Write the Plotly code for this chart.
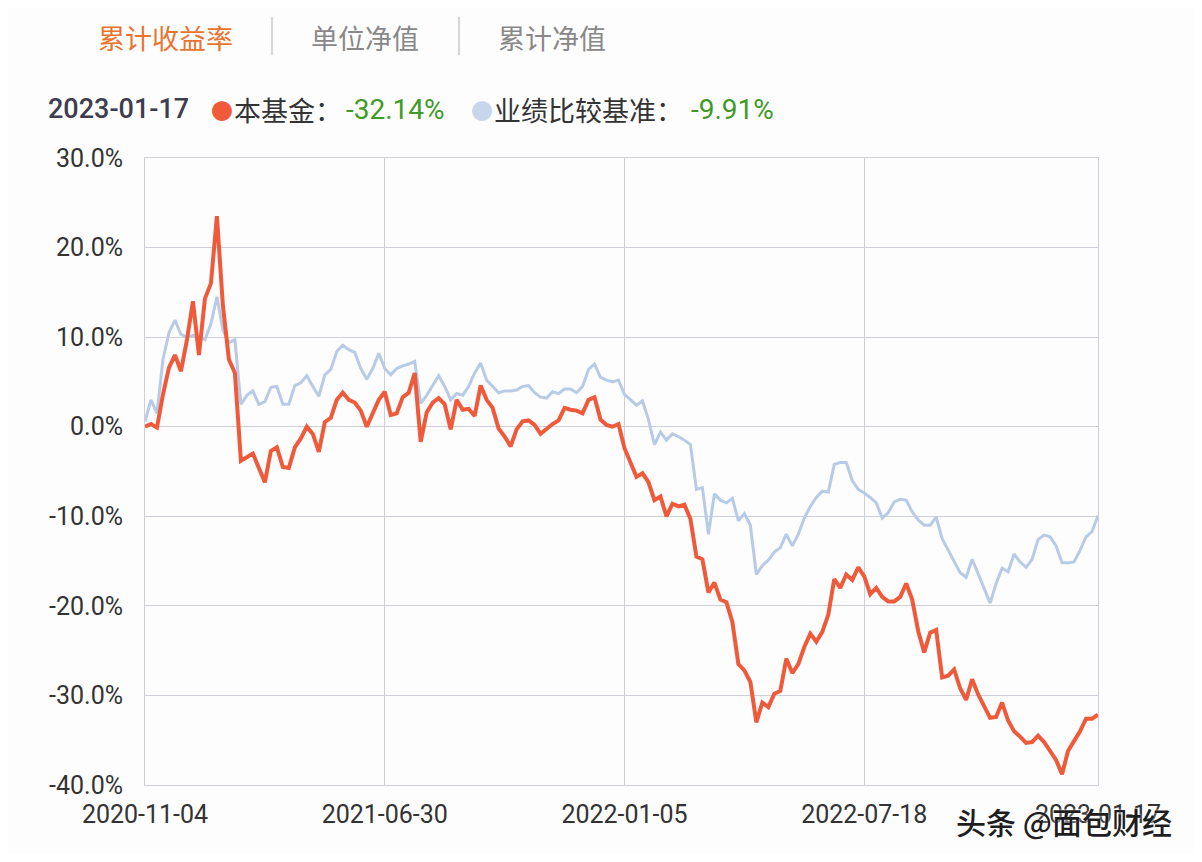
import plotly.graph_objects as go

# ---- data ----
fund_returns = [
    0.0, 0.3, -0.1, 3.6, 6.6, 8.0, 6.2, 9.7, 14.0, 8.0,
    14.3, 16.0, 23.5, 13.5, 7.5, 6.0, -3.8, -3.4, -3.0, -4.6,
    -6.2, -2.7, -2.3, -4.5, -4.6, -2.3, -1.3, 0.0, -0.8, -2.8,
    0.5, 1.0, 3.0, 3.8, 3.0, 2.7, 1.8, 0.0, 1.5, 3.0,
    3.9, 1.3, 1.5, 3.3, 3.8, 6.0, -1.7, 1.6, 2.7, 3.2,
    2.5, -0.3, 3.0, 1.9, 2.0, 1.2, 4.6, 3.0, 2.1, -0.2,
    -1.1, -2.2, -0.3, 0.6, 0.7, 0.2, -0.8, -0.2, 0.3, 0.7,
    2.1, 1.9, 1.8, 1.5, 3.0, 3.3, 0.8, 0.2, 0.0, 0.3,
    -2.4, -4.0, -5.6, -5.2, -6.2, -8.2, -7.8, -10.0, -8.6, -8.9,
    -8.7, -10.3, -14.5, -14.8, -18.5, -17.4, -19.3, -19.6, -21.8, -26.5,
    -27.2, -28.5, -33.0, -30.8, -31.3, -29.8, -29.5, -25.9, -27.5, -26.5,
    -24.6, -23.1, -24.0, -22.9, -21.0, -17.0, -18.0, -16.5, -17.1, -15.7,
    -16.7, -18.7, -18.0, -19.0, -19.5, -19.5, -19.0, -17.5, -19.3, -22.8,
    -25.2, -23.0, -22.7, -28.0, -27.8, -27.1, -29.2, -30.5, -28.2, -29.9,
    -31.2, -32.5, -32.4, -30.8, -32.8, -34.0, -34.6, -35.3, -35.2, -34.5,
    -35.2, -36.2, -37.2, -38.8, -36.2, -35.1, -34.0, -32.6, -32.6, -32.14,
]
benchmark_returns = [
    0.6, 3.0, 1.5, 7.5, 10.5, 11.9, 10.3, 10.0, 10.2, 10.0,
    9.7, 11.5, 14.5, 10.8, 9.4, 9.7, 2.5, 3.5, 4.0, 2.5,
    2.8, 4.4, 4.5, 2.5, 2.5, 4.6, 4.9, 5.7, 4.5, 3.4,
    5.8, 6.4, 8.4, 9.1, 8.6, 8.3, 6.5, 5.3, 6.5, 8.2,
    6.5, 5.8, 6.5, 6.8, 7.0, 7.3, 2.6, 3.5, 4.6, 5.7,
    4.5, 3.0, 3.7, 3.5, 4.5, 6.0, 7.1, 5.2, 4.5, 3.8,
    4.0, 4.0, 4.1, 4.5, 4.6, 3.8, 3.3, 3.2, 3.9, 3.7,
    4.2, 4.2, 3.8, 4.5, 6.4, 7.0, 5.5, 5.2, 5.0, 5.2,
    3.6, 3.0, 2.4, 2.9, 0.8, -2.0, -0.6, -1.5, -0.8, -1.1,
    -1.5, -2.0, -7.0, -6.8, -12.0, -7.5, -8.2, -8.5, -8.0, -10.5,
    -9.7, -11.0, -16.5, -15.5, -14.9, -14.0, -13.5, -12.0, -13.3, -12.0,
    -10.2, -8.9, -7.9, -7.2, -7.3, -4.2, -4.0, -4.0, -6.0, -7.0,
    -7.4, -7.9, -8.5, -10.2, -9.6, -8.4, -8.1, -8.2, -9.5, -10.4,
    -11.0, -11.0, -10.1, -12.5, -13.8, -15.0, -16.3, -16.8, -14.8, -16.4,
    -18.0, -19.7, -17.5, -15.8, -16.2, -14.2, -15.1, -15.7, -14.8, -12.6,
    -12.1, -12.3, -13.3, -15.2, -15.2, -15.1, -13.8, -12.3, -11.7, -9.91,
]
x_tick_index = [0, 40, 80, 120, 159]
x_tick_labels = ["2020-11-04", "2021-06-30", "2022-01-05", "2022-07-18", "2023-01-17"]
y_tick_values = [30, 20, 10, 0, -10, -20, -30, -40]
y_tick_labels = ["30.0%", "20.0%", "10.0%", "0.0%", "-10.0%", "-20.0%", "-30.0%", "-40.0%"]
tabs = ["累计收益率", "单位净值", "累计净值"]
latest_date = "2023-01-17"
fund_name = "本基金："
bench_name = "业绩比较基准："
fund_latest = "-32.14%"
bench_latest = "-9.91%"
watermark = "头条 @面包财经"

# ---- style ----
RED = "#ef5a3a"
BLUE = "#b8cbe6"
GRID = "#cdd0d8"
GREEN = "#3f9a26"
CJK = "Noto Sans CJK SC"
NUM = "Roboto, Noto Sans CJK SC"

idx = list(range(len(fund_returns)))

fig = go.Figure()
fig.add_trace(go.Scatter(x=idx, y=benchmark_returns, mode="lines",
                         line=dict(color=BLUE, width=3), hoverinfo="skip"))
fig.add_trace(go.Scatter(x=idx, y=fund_returns, mode="lines",
                         line=dict(color=RED, width=4), hoverinfo="skip"))

W, H = 1186, 846
fig.update_layout(
    width=W, height=H,
    margin=dict(l=137, r=96, t=150, b=69),
    paper_bgcolor="#fdfdfe", plot_bgcolor="#fdfdfe",
    showlegend=False,
    xaxis=dict(range=[0, len(fund_returns) - 1], tickmode="array",
               tickvals=x_tick_index, ticktext=x_tick_labels,
               showgrid=True, gridcolor=GRID, gridwidth=1,
               showline=True, linecolor=GRID, linewidth=1, mirror=True,
               zeroline=False, ticks="", ticklabelstandoff=7,
               tickfont=dict(family=NUM, size=25, color="#333333")),
    yaxis=dict(range=[-40, 30], tickmode="array",
               tickvals=y_tick_values, ticktext=y_tick_labels,
               showgrid=True, gridcolor=GRID, gridwidth=1,
               showline=True, linecolor=GRID, linewidth=1, mirror=True,
               zeroline=False, ticks="", ticklabelstandoff=16,
               tickfont=dict(family=NUM, size=25, color="#333333")),
)

def px(xr):
    return (xr - 145) / 953.0

def py(yr):
    return (785 - yr) / 627.0

ann = []
# tabs
tab_colors = ["#e8742f", "#888888", "#888888"]
tab_x = [165, 365, 552]
for t, c, xx in zip(tabs, tab_colors, tab_x):
    ann.append(dict(text=t, x=px(xx), y=py(37), xref="paper", yref="paper",
                    xanchor="center", yanchor="middle", showarrow=False,
                    font=dict(family=CJK, size=27, color=c)))
# info row
row_y = py(109)
ann.append(dict(text=latest_date, x=px(46), y=row_y, xref="paper", yref="paper",
                xanchor="left", yanchor="middle", showarrow=False,
                font=dict(family=NUM, size=27, color="#3d3d4d", weight=500)))
ann.append(dict(text="●", x=px(222), y=row_y, xref="paper", yref="paper",
                xanchor="center", yanchor="middle", showarrow=False,
                font=dict(family=CJK, size=22, color=RED)))
ann.append(dict(text=fund_name, x=px(232), y=row_y, xref="paper", yref="paper",
                xanchor="left", yanchor="middle", showarrow=False,
                font=dict(family=CJK, size=27, color="#333333")))
ann.append(dict(text=fund_latest, x=px(344), y=row_y, xref="paper", yref="paper",
                xanchor="left", yanchor="middle", showarrow=False,
                font=dict(family=NUM, size=28, color=GREEN)))
ann.append(dict(text="●", x=px(482), y=row_y, xref="paper", yref="paper",
                xanchor="center", yanchor="middle", showarrow=False,
                font=dict(family=CJK, size=22, color="#c8d6ec")))
ann.append(dict(text=bench_name, x=px(492), y=row_y, xref="paper", yref="paper",
                xanchor="left", yanchor="middle", showarrow=False,
                font=dict(family=CJK, size=27, color="#333333")))
ann.append(dict(text=bench_latest, x=px(689), y=row_y, xref="paper", yref="paper",
                xanchor="left", yanchor="middle", showarrow=False,
                font=dict(family=NUM, size=28, color=GREEN)))
# watermark
ann.append(dict(text=watermark, x=px(954), y=py(821), xref="paper", yref="paper",
                xanchor="left", yanchor="middle", showarrow=False,
                font=dict(family=CJK, size=30, color="#1e1e1e", weight=500,
                          shadow="0px 0px 3px #ffffff")))
fig.update_layout(annotations=ann)

# tab separators
shapes = []
for sx in [272, 459]:
    shapes.append(dict(type="line", xref="paper", yref="paper",
                       x0=px(sx), x1=px(sx), y0=py(17), y1=py(55),
                       line=dict(color="#c8c8c8", width=1.5)))
fig.update_layout(shapes=shapes)

fig.write_html("out.html", config={"displayModeBar": False, "staticPlot": True})
